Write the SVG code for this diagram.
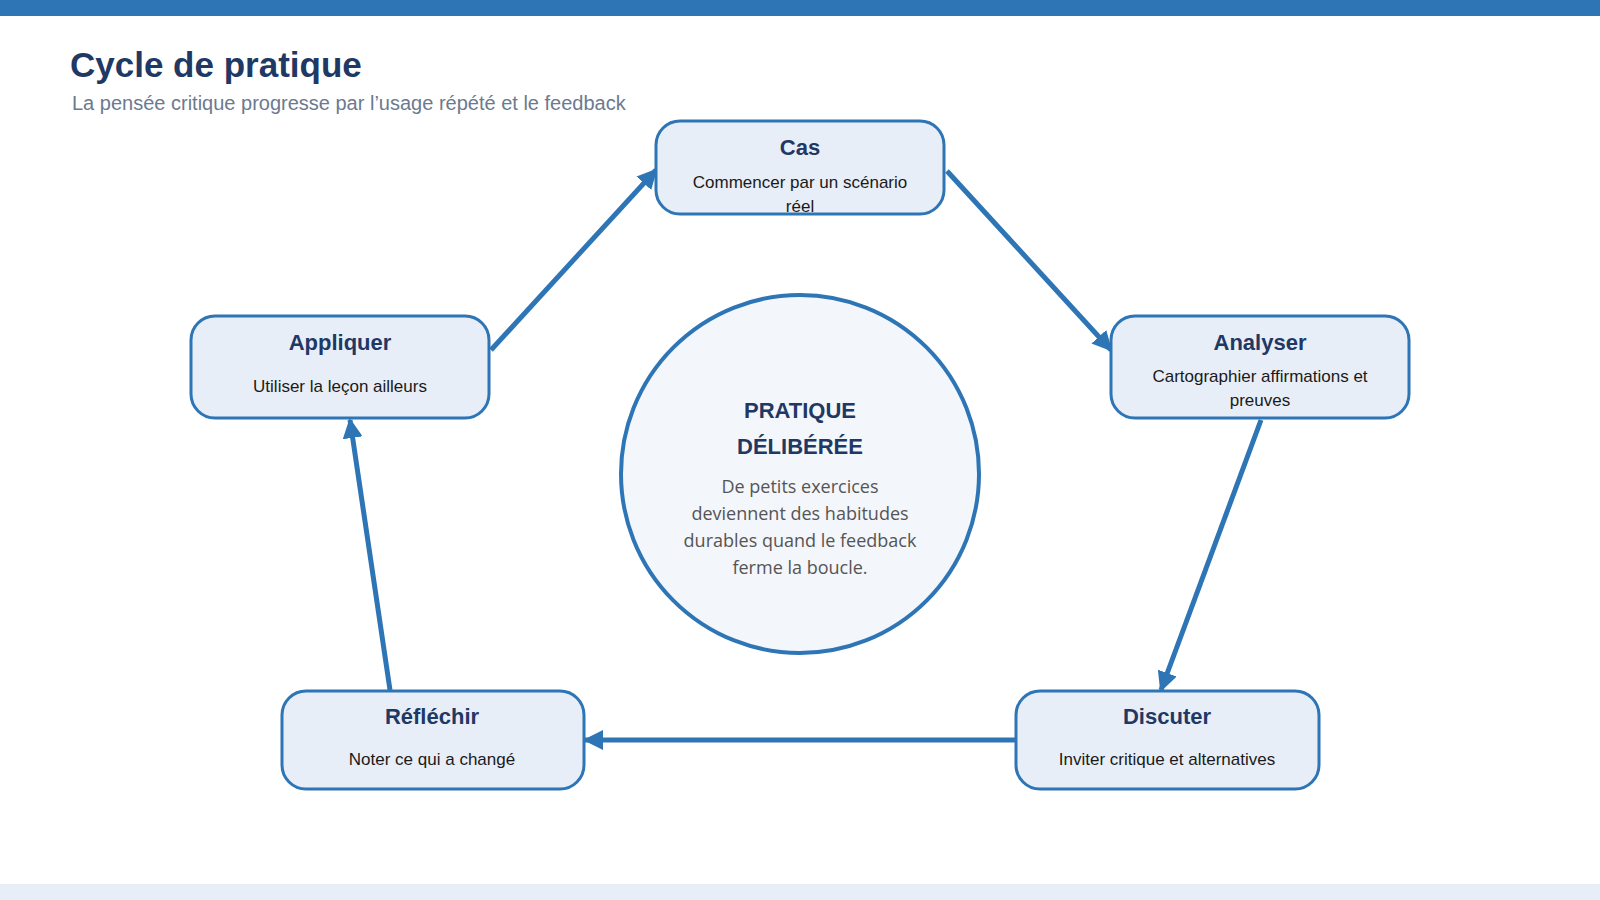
<svg xmlns="http://www.w3.org/2000/svg" width="1600" height="900" viewBox="0 0 1600 900">
<style>
.box{fill:#e8eef7;stroke:#2e75b6;stroke-width:3}
.t{font-family:"Liberation Sans",Arial,sans-serif;font-weight:bold;font-size:22px;fill:#1f3864;text-anchor:middle}
.d{font-family:"Liberation Sans",Arial,sans-serif;font-size:17px;fill:#1a1a1a;text-anchor:middle}
.c{font-family:"Open Sans","Liberation Sans",sans-serif;font-size:18px;fill:#555;text-anchor:middle}
.e{stroke:#2e75b6;stroke-width:5;fill:none;marker-end:url(#ah)}
</style>
<defs><marker id="ah" viewBox="0 0 10 10" refX="9" refY="5" markerWidth="4" markerHeight="4" orient="auto"><path d="M0,0L10,5L0,10z" fill="#2e75b6"/></marker></defs>
<rect width="1600" height="16" fill="#2e75b6"/>
<rect y="884" width="1600" height="16" fill="#e8eef7"/>
<text x="70" y="77" font-family="Liberation Sans,Arial,sans-serif" font-weight="bold" font-size="35" fill="#1f3864">Cycle de pratique</text>
<text x="72" y="110" font-family="Liberation Sans,Arial,sans-serif" font-size="20" fill="#6b7a8f">La pensée critique progresse par l’usage répété et le feedback</text>
<g id="connectors">
<line class="e" x1="491" y1="350" x2="656" y2="170"/>
<line class="e" x1="947" y1="171" x2="1111" y2="350"/>
<line class="e" x1="1261" y1="420" x2="1161" y2="690"/>
<line class="e" x1="1016" y1="740" x2="585" y2="740"/>
<line class="e" x1="390" y1="690" x2="350" y2="420"/>
</g>
<g id="center">
<circle cx="800" cy="474" r="179" fill="#f3f6fb" stroke="#2e75b6" stroke-width="4"/>
<text class="t" x="800" y="418" font-size="27">PRATIQUE</text>
<text class="t" x="800" y="454" font-size="27">DÉLIBÉRÉE</text>
<text class="c" x="800" y="493">De petits exercices</text>
<text class="c" x="800" y="520">deviennent des habitudes</text>
<text class="c" x="800" y="547">durables quand le feedback</text>
<text class="c" x="800" y="574">ferme la boucle.</text>
</g>
<g id="cas"><rect class="box" x="656" y="121" width="288" height="93" rx="24"/>
<text class="t" x="800" y="155">Cas</text><text class="d" x="800" y="188">Commencer par un scénario</text><text class="d" x="800" y="212">réel</text></g>
<g id="analyser"><rect class="box" x="1111" y="316" width="298" height="102" rx="24"/>
<text class="t" x="1260" y="350">Analyser</text><text class="d" x="1260" y="382">Cartographier affirmations et</text><text class="d" x="1260" y="406">preuves</text></g>
<g id="discuter"><rect class="box" x="1016" y="691" width="303" height="98" rx="24"/>
<text class="t" x="1167" y="724">Discuter</text><text class="d" x="1167" y="765">Inviter critique et alternatives</text></g>
<g id="reflechir"><rect class="box" x="282" y="691" width="302" height="98" rx="24"/>
<text class="t" x="432" y="724">Réfléchir</text><text class="d" x="432" y="765">Noter ce qui a changé</text></g>
<g id="appliquer"><rect class="box" x="191" y="316" width="298" height="102" rx="24"/>
<text class="t" x="340" y="350">Appliquer</text><text class="d" x="340" y="392">Utiliser la leçon ailleurs</text></g>
</svg>
